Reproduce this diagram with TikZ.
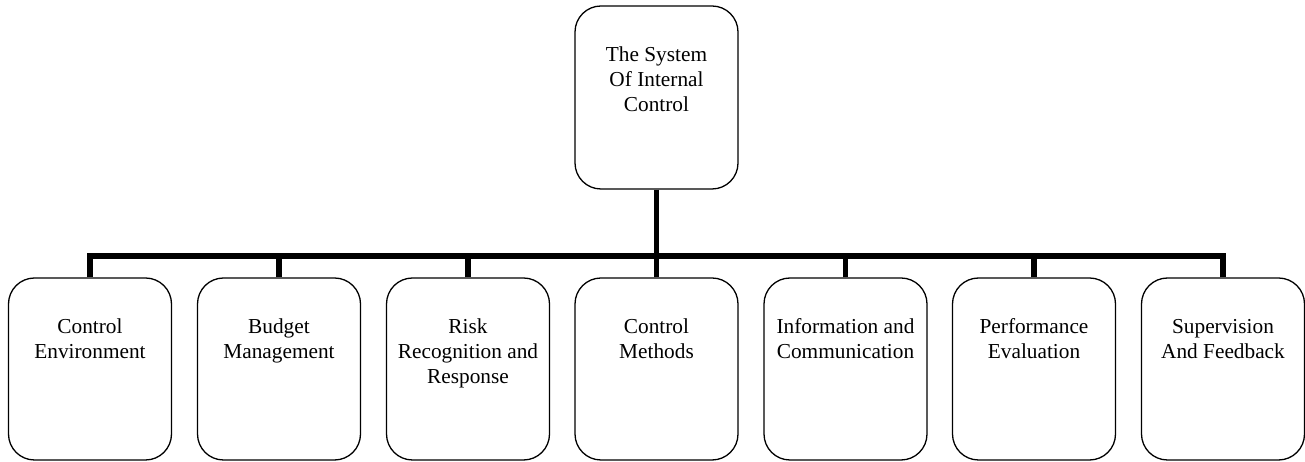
\documentclass[tikz,border=0pt]{standalone}
\usepackage{fontspec}
\setmainfont{Liberation Serif}
\newcommand{\topstrut}{\rule{0pt}{16pt}}
\begin{document}
\begin{tikzpicture}[x=1pt,y=1pt,
  box/.style={draw=black,line width=1.3pt,rounded corners=26pt,minimum width=163pt,minimum height=182pt,inner sep=0pt},
  lbl/.style={anchor=north,align=center,inner sep=0pt,font=\fontsize{21.3}{25}\selectfont},
  conn/.style={line width=5.5pt,line join=miter,line cap=butt}]
\useasboundingbox (0,0) rectangle (1305,462);
\node[box,minimum height=183pt] (top) at (656.5,364.5) {};
\node[lbl] (topl) at ([yshift=-40pt]top.north) {\topstrut The System\\Of Internal\\Control};
\coordinate (bus) at (656.5,206);
\foreach \n/\x/\t in {c1/90/{Control\\Environment},c2/279/{Budget\\Management},c3/468/{Risk\\Recognition and\\Response},c4/656.5/{Control\\Methods},c5/845.5/{Information and\\Communication},c6/1034/{Performance\\Evaluation},c7/1223/{Supervision\\And Feedback}}{
  \node[box] (\n) at (\x,93) {};
  \node[lbl] (\n l) at ([yshift=-40pt]\n.north) {\topstrut\t};
}
\draw[conn] (top.south) -- (top.south |- bus);
\foreach \n in {c1,c2,c3,c4,c5,c6,c7}{
  \draw[conn] (\n.north) -- (\n.north |- bus) -- (bus);
}
\end{tikzpicture}
\end{document}
